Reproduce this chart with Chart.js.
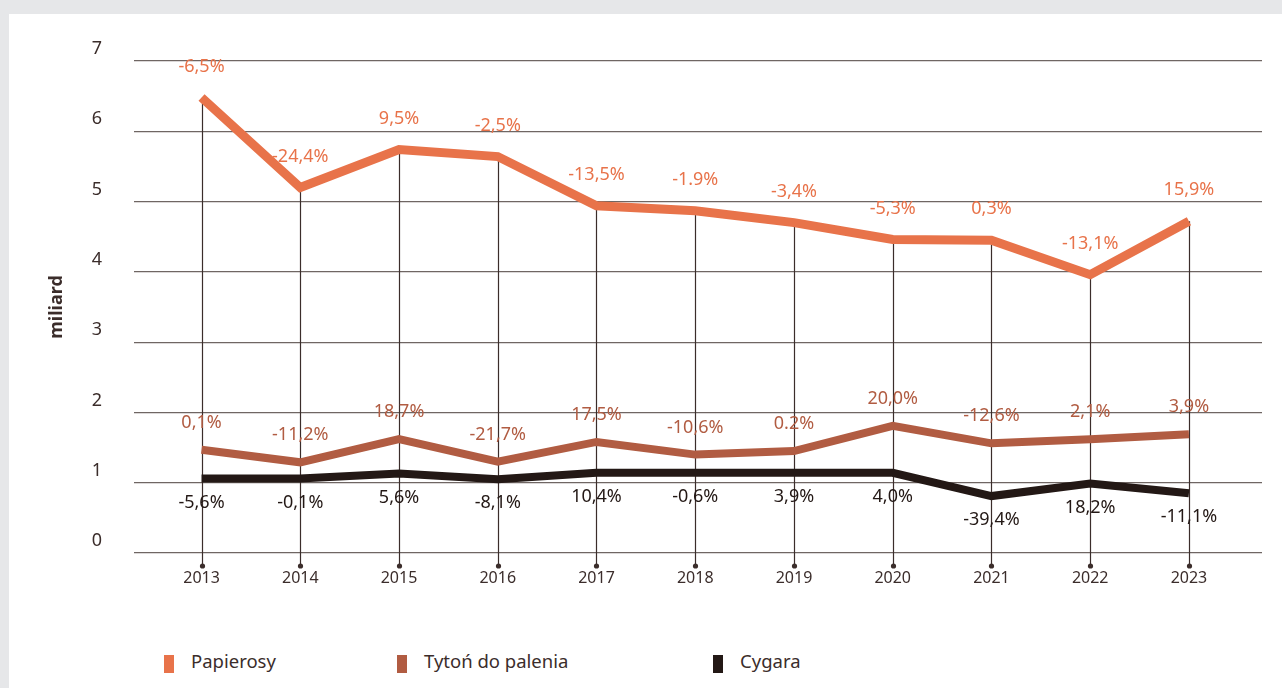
<!DOCTYPE html>
<html lang="pl">
<head>
<meta charset="utf-8">
<script src="https://cdn.jsdelivr.net/npm/chart.js@4"></script>
<style>
body{margin:0;background:#e6e7e9;width:1282px;height:688px;overflow:hidden;font-family:"Noto Sans",sans-serif}
#panel{position:absolute;left:9px;top:14px;width:1273px;height:674px;background:#fff}
#chart{position:absolute;left:0;top:0}
.leg{position:absolute;top:635px;height:24px;line-height:24px;font-size:18.5px;color:#3b2d2b;white-space:nowrap}
.leg i{position:absolute;left:0;top:6px;width:10px;height:18px}
.leg span{margin-left:27px}
</style>
</head>
<body>
<div id="panel">
  <canvas id="chart" width="1273" height="600"></canvas>
</div>
<script>
// data (miliard sztuk)
let years = [2013, 2014, 2015, 2016, 2017, 2018, 2019, 2020, 2021, 2022, 2023];
let papierosy = [6.48, 5.20, 5.74, 5.64, 4.94, 4.87, 4.70, 4.46, 4.45, 3.96, 4.72];
let tyton = [1.47, 1.29, 1.62, 1.30, 1.58, 1.40, 1.45, 1.81, 1.56, 1.62, 1.69];
let cygara = [1.06, 1.06, 1.13, 1.05, 1.14, 1.14, 1.14, 1.14, 0.81, 0.99, 0.85];

// year-on-year change labels
let papierosyZmiana = ["-6,5%", "-24,4%", "9,5%", "-2,5%", "-13,5%", "-1.9%", "-3,4%", "-5,3%", "0,3%", "-13,1%", "15,9%"];
let tytonZmiana = ["0,1%", "-11,2%", "18,7%", "-21,7%", "17,5%", "-10,6%", "0.2%", "20,0%", "-12,6%", "2,1%", "3,9%"];
let cygaraZmiana = ["-5,6%", "-0,1%", "5,6%", "-8,1%", "10,4%", "-0,6%", "3,9%", "4,0%", "-39,4%", "18,2%", "-11,1%"];

let seriesNames = ["Papierosy", "Tytoń do palenia", "Cygara"];
let yTicks = [0, 1, 2, 3, 4, 5, 6, 7];

let colors = ["#e8734a", "#b15c42", "#231815"];
let textColor = "#3b2d2b";
let fontFamily = "'Noto Sans', sans-serif";

// Function to turn a series into x/y points
function toPoints(values){
  return values.map((v, i) => ({ x: years[i], y: v }));
}

// vertical stems from the top line down below the axis, with a dot
let stemsPlugin = {
  id: "stems",
  beforeDatasetsDraw(chart){
    let ctx = chart.ctx;
    let top = chart.getDatasetMeta(0).data;
    let bottom = chart.chartArea.bottom + 13;
    ctx.save();
    ctx.strokeStyle = textColor;
    ctx.fillStyle = textColor;
    ctx.lineWidth = 1.2;
    top.forEach((pt) => {
      let x = Math.round(pt.x) + 0.5;
      ctx.beginPath();
      ctx.moveTo(x, pt.y);
      ctx.lineTo(x, bottom);
      ctx.stroke();
      ctx.beginPath();
      ctx.arc(x, bottom, 2.6, 0, Math.PI * 2);
      ctx.fill();
    });
    ctx.restore();
  }
};

// percentage labels next to each point
let changePlugin = {
  id: "changes",
  afterDatasetsDraw(chart){
    let ctx = chart.ctx;
    let labels = [papierosyZmiana, tytonZmiana, cygaraZmiana];
    let shift = [-31, -27, 24];
    ctx.save();
    ctx.font = "18px " + fontFamily;
    ctx.textAlign = "center";
    ctx.textBaseline = "middle";
    chart.data.datasets.forEach((ds, d) => {
      ctx.fillStyle = colors[d];
      chart.getDatasetMeta(d).data.forEach((pt, i) => {
        ctx.fillText(labels[d][i], pt.x, pt.y + shift[d]);
      });
    });
    ctx.restore();
  }
};

let chart = new Chart(document.getElementById("chart").getContext("2d"), {
  type: "line",
  data: {
    datasets: [
      { label: seriesNames[0], data: toPoints(papierosy), borderColor: colors[0], borderWidth: 9 },
      { label: seriesNames[1], data: toPoints(tyton), borderColor: colors[1], borderWidth: 8 },
      { label: seriesNames[2], data: toPoints(cygara), borderColor: colors[2], borderWidth: 8 }
    ]
  },
  options: {
    responsive: false,
    animation: false,
    layout: { padding: { left: 37, right: 20, top: 47, bottom: 0 } },
    elements: {
      point: { radius: 0, hoverRadius: 0 },
      line: { tension: 0, borderCapStyle: "butt", borderJoinStyle: "miter", fill: false }
    },
    plugins: { legend: { display: false }, tooltip: { enabled: false } },
    scales: {
      x: {
        type: "linear",
        min: 2012.316,
        max: 2023.74,
        afterBuildTicks: (s) => { s.ticks = years.map((v) => ({ value: v })); },
        afterFit: (s) => { s.height = 61; },
        grid: { display: false, drawTicks: false },
        border: { display: false },
        ticks: {
          padding: 16,
          color: textColor,
          font: { family: fontFamily, size: 16 },
          callback: (v) => String(v),
          maxRotation: 0
        }
      },
      y: {
        min: 0,
        max: 7,
        afterBuildTicks: (s) => { s.ticks = yTicks.map((v) => ({ value: v })); },
        afterFit: (s) => { s.width = 88; },
        grid: { color: "#6f6663", lineWidth: 1.2, drawTicks: false },
        border: { display: false },
        ticks: {
          padding: 32,
          labelOffset: -12,
          color: textColor,
          font: { family: fontFamily, size: 18 }
        },
        title: {
          display: true,
          text: "miliard",
          color: textColor,
          padding: 0,
          font: { family: fontFamily, size: 18, weight: "bold" }
        }
      }
    }
  },
  plugins: [stemsPlugin, changePlugin]
});

// legend under the chart
let legendLeft = [155, 388, 704];
seriesNames.forEach((name, i) => {
  let item = document.createElement("div");
  item.className = "leg";
  item.style.left = legendLeft[i] + "px";
  item.innerHTML = '<i style="background:' + colors[i] + '"></i><span>' + name + "</span>";
  document.getElementById("panel").appendChild(item);
});
</script>
</body>
</html>
